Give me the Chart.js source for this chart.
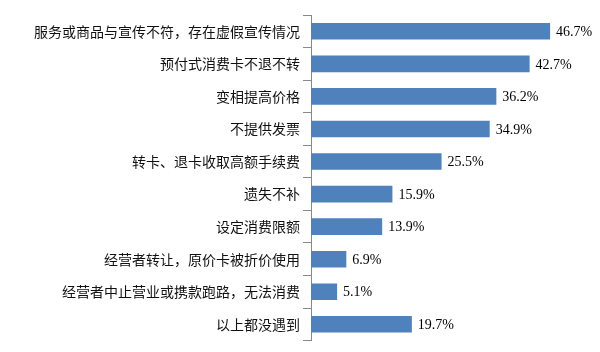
<!DOCTYPE html>
<html><head><meta charset="utf-8">
<script src="https://cdn.jsdelivr.net/npm/chart.js@4/dist/chart.umd.min.js"></script>
<style>html,body{margin:0;padding:0;background:#fff}#w{width:600px;height:352px}</style>
</head><body><div id="w"><canvas id="c"></canvas></div>
<script>
const categories = ["服务或商品与宣传不符，存在虚假宣传情况","预付式消费卡不退不转","变相提高价格","不提供发票","转卡、退卡收取高额手续费","遗失不补","设定消费限额","经营者转让，原价卡被折价使用","经营者中止营业或携款跑路，无法消费","以上都没遇到"];
const values = [46.7,42.7,36.2,34.9,25.5,15.9,13.9,6.9,5.1,19.7];

const labelPlugin = {
  id:'vlabels',
  afterDatasetsDraw(chart){
    const ctx = chart.ctx;
    const meta = chart.getDatasetMeta(0);
    ctx.save();
    ctx.font = '14px "Liberation Serif", serif';
    ctx.fillStyle = '#000';
    ctx.textBaseline = 'middle';
    ctx.textAlign = 'left';
    meta.data.forEach((bar,i)=>{
      ctx.fillText(values[i].toFixed(1)+'%', bar.x+6, bar.y+1);
    });
    ctx.restore();
  }
};

new Chart(document.getElementById('c'),{
  type:'bar',
  data:{labels:categories,datasets:[{data:values,backgroundColor:'#4F81BD',borderWidth:0,barPercentage:0.51,categoryPercentage:1}]},
  options:{
    indexAxis:'y',responsive:true,maintainAspectRatio:false,animation:false,
    layout:{padding:{left:0,right:33,top:15,bottom:5}},
    plugins:{legend:{display:false},tooltip:{enabled:false}},
    scales:{
      x:{display:false,min:0,max:50},
      y:{
        afterFit(s){s.width=311;},
        grid:{drawOnChartArea:false,offset:true,color:'#888',tickLength:8},
        border:{color:'#888',width:1},
        ticks:{color:'#111',padding:3,font:{family:'"Noto Sans CJK SC"',size:14}}
      }
    }
  },
  plugins:[labelPlugin]
});
</script></body></html>
